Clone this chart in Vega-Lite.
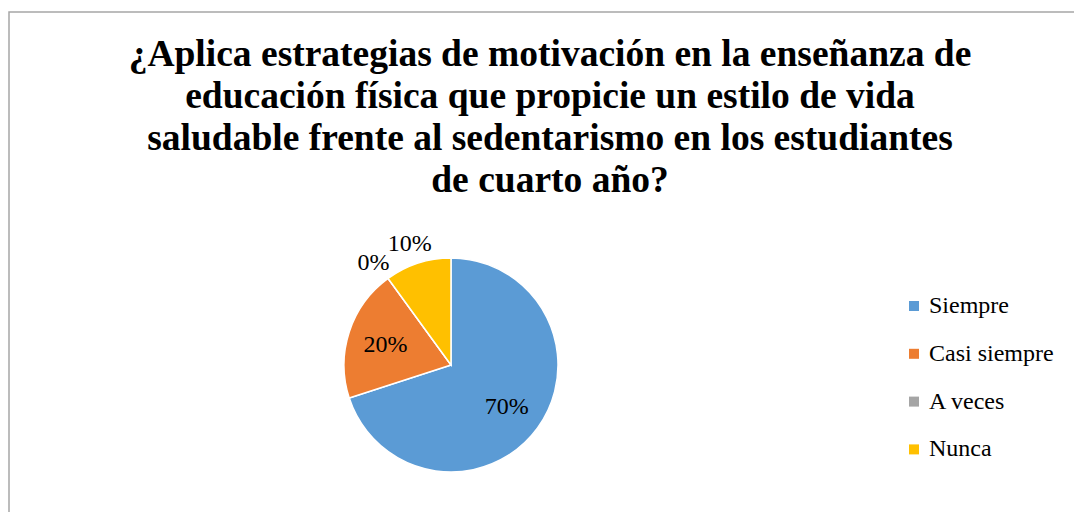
{
  "$schema": "https://vega.github.io/schema/vega-lite/v6.json",
  "autosize": "none",
  "padding": {"left": 9, "top": 12, "right": 0, "bottom": 0},
  "width": 1082,
  "height": 520,
  "background": "white",
  "view": {"stroke": "#A6A6A6", "strokeWidth": 1.5, "fill": "white"},
  "config": {
    "font": "Liberation Serif"
  },
  "title": {
    "text": [
      "¿Aplica estrategias de motivación en la enseñanza de",
      "educación física que propicie un estilo de vida",
      "saludable frente al sedentarismo en los estudiantes",
      "de cuarto año?"
    ],
    "font": "Liberation Serif",
    "fontSize": 37.5,
    "fontWeight": "bold",
    "color": "#000000",
    "anchor": "middle",
    "frame": "group",
    "baseline": "alphabetic",
    "lineHeight": 42.3,
    "offset": -218
  },
  "data": {
    "values": [
      {"category": "Siempre", "value": 0.7, "label": "70%", "order": 1},
      {"category": "Casi siempre", "value": 0.2, "label": "20%", "order": 2},
      {"category": "A veces", "value": 0.0, "label": "0%", "order": 3},
      {"category": "Nunca", "value": 0.1, "label": "10%", "order": 4}
    ]
  },
  "encoding": {
    "theta": {"field": "value", "type": "quantitative", "stack": true},
    "order": {"field": "order", "type": "quantitative"},
    "color": {
      "field": "category",
      "type": "nominal",
      "scale": {
        "domain": ["Siempre", "Casi siempre", "A veces", "Nunca"],
        "range": ["#5B9BD5", "#ED7D31", "#A5A5A5", "#FFC000"]
      },
      "legend": {
        "title": null,
        "orient": "none",
        "legendX": 893,
        "legendY": 282,
        "padding": 0,
        "symbolType": "square",
        "symbolSize": 100,
        "symbolStrokeWidth": 0,
        "labelFont": "Liberation Serif",
        "labelFontSize": 24,
        "labelColor": "#000000",
        "labelOffset": 3,
        "rowPadding": 23.8
      }
    }
  },
  "layer": [
    {
      "mark": {"type": "arc", "outerRadius": 107, "stroke": "white", "strokeWidth": 1.5, "x": 442, "y": 353}
    },
    {
      "mark": {"type": "text", "radius": 69, "x": 442, "y": 354, "fontSize": 24, "font": "Liberation Serif", "color": "#000000"},
      "encoding": {
        "text": {"condition": {"test": "datum.value >= 0.15", "field": "label"}, "value": ""},
        "color": {"value": "#000000"}
      }
    },
    {
      "mark": {"type": "text", "radius": 130, "x": 441, "y": 356, "fontSize": 24, "font": "Liberation Serif", "color": "#000000"},
      "encoding": {
        "text": {"condition": {"test": "datum.value < 0.15", "field": "label"}, "value": ""},
        "color": {"value": "#000000"}
      }
    }
  ]
}
